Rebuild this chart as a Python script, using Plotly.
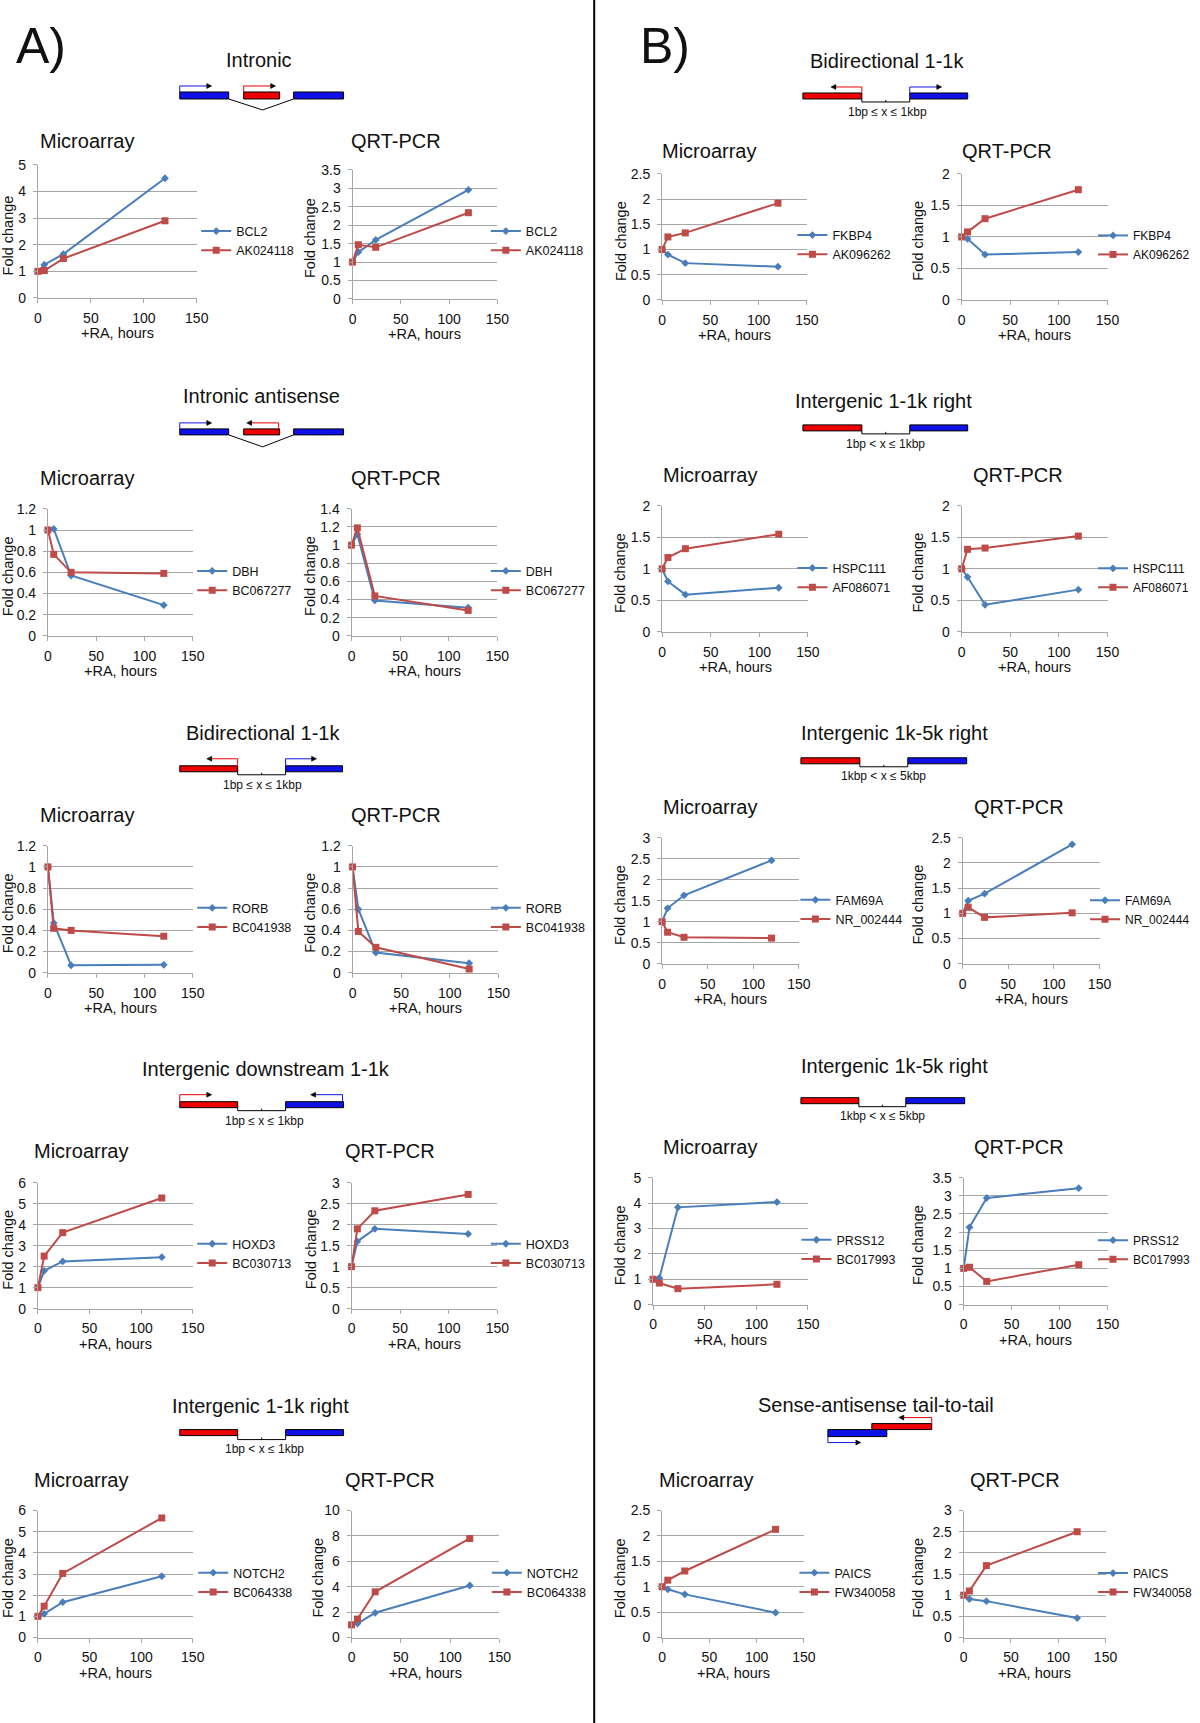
import plotly.graph_objects as go

W, H = 1200, 1723
BLUE = '#4A7EBB'
RED = '#BE4B48'
GRID = '#A6A6A6'
GENE_BLUE = '#1010E8'
GENE_RED = '#EE0000'
FONT = 'Liberation Sans, Arial, sans-serif'

# the captured page comes out slightly shrunk; positions below are in reference pixels
SHIFT_X, SCALE_X = 3, 0.988
SHIFT_Y, SCALE_Y = 7, 0.991

hours = [0, 6, 24, 120]

# A) left column
bcl2_ma = [1.0, 1.25, 1.65, 4.5]
ak024118_ma = [1.0, 1.03, 1.48, 2.9]
bcl2_pcr = [1.0, 1.27, 1.6, 2.96]
ak024118_pcr = [1.0, 1.47, 1.4, 2.34]

dbh_ma = [1.0, 1.01, 0.57, 0.29]
bc067277_ma = [1.0, 0.77, 0.6, 0.59]
dbh_pcr = [1.0, 1.12, 0.39, 0.31]
bc067277_pcr = [1.0, 1.19, 0.44, 0.28]

rorb_ma = [1.0, 0.47, 0.07, 0.075]
bc041938_ma = [1.0, 0.42, 0.40, 0.345]
rorb_pcr = [1.0, 0.6, 0.19, 0.09]
bc041938_pcr = [1.0, 0.39, 0.24, 0.035]

hoxd3_ma = [1.0, 1.8, 2.25, 2.45]
bc030713_ma = [1.0, 2.5, 3.62, 5.27]
hoxd3_pcr = [1.0, 1.6, 1.9, 1.78]
bc030713_pcr = [1.0, 1.9, 2.33, 2.72]

notch2_ma = [1.0, 1.12, 1.67, 2.9]
bc064338_ma = [1.0, 1.48, 3.03, 5.65]
notch2_pcr = [1.0, 1.1, 1.95, 4.1]
bc064338_pcr = [1.0, 1.45, 3.6, 7.8]

# B) right column
fkbp4_ma = [1.0, 0.9, 0.73, 0.66]
ak096262_ma = [1.0, 1.25, 1.33, 1.92]
fkbp4_pcr = [1.0, 0.97, 0.72, 0.76]
ak096262_pcr = [1.0, 1.08, 1.29, 1.75]

hspc111_ma = [1.0, 0.8, 0.59, 0.7]
af086071_ma = [1.0, 1.18, 1.32, 1.55]
hspc111_pcr = [1.0, 0.87, 0.43, 0.67]
af086071_pcr = [1.0, 1.31, 1.33, 1.52]

fam69a_ma = [1.0, 1.32, 1.63, 2.46]
nr002444_ma = [1.0, 0.75, 0.63, 0.61]
fam69a_pcr = [1.0, 1.25, 1.39, 2.37]
nr002444_pcr = [1.0, 1.12, 0.92, 1.01]

prss12_ma = [1.0, 1.05, 3.83, 4.04]
bc017993_ma = [1.0, 0.85, 0.63, 0.8]
prss12_pcr = [1.0, 2.13, 2.94, 3.21]
bc017993_pcr = [1.0, 1.03, 0.64, 1.1]

paics_ma = [1.0, 0.95, 0.85, 0.49]
fw340058_ma = [1.0, 1.13, 1.31, 2.13]
paics_pcr = [1.0, 0.91, 0.86, 0.46]
fw340058_pcr = [1.0, 1.1, 1.7, 2.5]


def dx(x):
    return (x - SHIFT_X) / SCALE_X


def px(x):
    return dx(x) / W


def py(y):
    return 1 - ((y - SHIFT_Y) / SCALE_Y) / H


# blue series, red series, y max, y step, title, plot box (L, R, T, B), title pos, fold-change x,
# legend (text x, center y, font size)
panels = [
    (('BCL2', bcl2_ma), ('AK024118', ak024118_ma), 5, 1, 'Microarray', (37, 196, 164, 297), (37, 140), 7, (235, 240, 12.5)),
    (('BCL2', bcl2_pcr), ('AK024118', ak024118_pcr), 3.5, 0.5, 'QRT-PCR', (352, 497, 169, 298), (348, 140), 310, (525, 240, 12.5)),
    (('DBH', dbh_ma), ('BC067277', bc067277_ma), 1.2, 0.2, 'Microarray', (47, 192, 508, 635), (37, 477), 7, (231, 580, 12.5)),
    (('DBH', dbh_pcr), ('BC067277', bc067277_pcr), 1.4, 0.2, 'QRT-PCR', (351, 497, 508, 635), (348, 477), 310, (525, 580, 12.5)),
    (('RORB', rorb_ma), ('BC041938', bc041938_ma), 1.2, 0.2, 'Microarray', (47, 192, 845, 972), (37, 814), 7, (231, 917, 12.5)),
    (('RORB', rorb_pcr), ('BC041938', bc041938_pcr), 1.2, 0.2, 'QRT-PCR', (352, 498, 845, 972), (348, 814), 310, (525, 917, 12.5)),
    (('HOXD3', hoxd3_ma), ('BC030713', bc030713_ma), 6, 1, 'Microarray', (37, 192, 1182, 1308), (31, 1150), 7, (231, 1253, 12.5)),
    (('HOXD3', hoxd3_pcr), ('BC030713', bc030713_pcr), 3, 0.5, 'QRT-PCR', (351, 497, 1182, 1308), (342, 1150), 310, (525, 1253, 12.5)),
    (('NOTCH2', notch2_ma), ('BC064338', bc064338_ma), 6, 1, 'Microarray', (37, 192, 1510, 1637), (31, 1479), 7, (232, 1582, 12.5)),
    (('NOTCH2', notch2_pcr), ('BC064338', bc064338_pcr), 10, 2, 'QRT-PCR', (351, 499, 1510, 1637), (342, 1479), 317, (526, 1582, 12.5)),
    (('FKBP4', fkbp4_ma), ('AK096262', ak096262_ma), 2.5, 0.5, 'Microarray', (662, 807, 173, 299), (660, 150), 621, (832, 244, 12.5)),
    (('FKBP4', fkbp4_pcr), ('AK096262', ak096262_pcr), 2, 0.5, 'QRT-PCR', (962, 1108, 173, 299), (960, 150), 918, (1133, 244, 12)),
    (('HSPC111', hspc111_ma), ('AF086071', af086071_ma), 2, 0.5, 'Microarray', (662, 808, 505, 631), (661, 474), 620, (832, 577, 12.5)),
    (('HSPC111', hspc111_pcr), ('AF086071', af086071_pcr), 2, 0.5, 'QRT-PCR', (962, 1108, 505, 631), (971, 474), 918, (1133, 577, 12)),
    (('FAM69A', fam69a_ma), ('NR_002444', nr002444_ma), 3, 0.5, 'Microarray', (662, 799, 837, 963), (661, 806), 620, (835, 909, 12.5)),
    (('FAM69A', fam69a_pcr), ('NR_002444', nr002444_pcr), 2.5, 0.5, 'QRT-PCR', (963, 1100, 837, 963), (972, 806), 918, (1125, 909, 12)),
    (('PRSS12', prss12_ma), ('BC017993', bc017993_ma), 5, 1, 'Microarray', (653, 808, 1177, 1304), (661, 1146), 620, (836, 1249, 12.5)),
    (('PRSS12', prss12_pcr), ('BC017993', bc017993_pcr), 3.5, 0.5, 'QRT-PCR', (964, 1108, 1177, 1304), (972, 1146), 918, (1133, 1249, 12)),
    (('PAICS', paics_ma), ('FW340058', fw340058_ma), 2.5, 0.5, 'Microarray', (662, 804, 1510, 1637), (657, 1479), 620, (834, 1582, 12.5)),
    (('PAICS', paics_pcr), ('FW340058', fw340058_pcr), 3, 0.5, 'QRT-PCR', (964, 1106, 1510, 1637), (968, 1479), 918, (1133, 1582, 12)),
]

fig = go.Figure()
annotations = []
shapes = []
layout = {}


def label(x, y, text, size, anchor='center', angle=0):
    annotations.append(dict(x=px(x), y=py(y), xref='paper', yref='paper', text=text,
                            xanchor=anchor, yanchor='middle', textangle=angle, showarrow=False,
                            font=dict(size=size, color='#111')))


for i, (blue, red, ymax, step, title, box, tpos, fold_x, leg) in enumerate(panels, 1):
    sfx = '' if i == 1 else str(i)
    L, R, T, B = box
    for (name, vals), color, sym in ((blue, BLUE, 'diamond'), (red, RED, 'square')):
        fig.add_trace(go.Scatter(
            x=hours, y=vals, name=name, mode='lines+markers',
            line=dict(color=color, width=2),
            marker=dict(symbol=sym, size=7 if sym == 'square' else 6, color=color),
            xaxis='x' + sfx, yaxis='y' + sfx, legend='legend' + sfx, cliponaxis=False))
    layout['xaxis' + sfx] = dict(
        domain=[px(L), px(R)], anchor='y' + sfx, range=[0, 150], tick0=0, dtick=50,
        showgrid=False, zeroline=False, showline=True, linecolor=GRID, linewidth=1,
        ticks='outside', ticklen=4, tickcolor=GRID, ticklabelstandoff=3,
        tickfont=dict(size=14, color='#111'))
    layout['yaxis' + sfx] = dict(
        domain=[py(B), py(T)], anchor='x' + sfx, range=[0, ymax], tick0=0, dtick=step,
        showgrid=True, gridcolor=GRID, gridwidth=1, zeroline=False, showline=True,
        linecolor=GRID, linewidth=1, ticks='outside', ticklen=4, tickcolor=GRID,
        ticklabelstandoff=4, tickfont=dict(size=14, color='#111'))
    layout['legend' + sfx] = dict(
        x=(dx(leg[0]) - 40) / W, y=py(leg[1]), xanchor='left', yanchor='middle',
        font=dict(size=leg[2], color='#111'), bgcolor='rgba(0,0,0,0)', borderwidth=0,
        itemwidth=30, tracegroupgap=0)
    label(tpos[0], tpos[1], title, 20, anchor='left')
    label(fold_x, (T + B) / 2 + 4, 'Fold change', 14.5, angle=-90)
    label((L + R) / 2, B + 35, '+RA, hours', 14.5)

# section titles
section_titles = [
    ('Intronic', 258, 59), ('Intronic antisense', 261, 395), ('Bidirectional 1-1k', 262, 732),
    ('Intergenic downstream 1-1k', 265, 1068), ('Intergenic 1-1k right', 260, 1405),
    ('Bidirectional 1-1k', 887, 60), ('Intergenic 1-1k right', 884, 400),
    ('Intergenic 1k-5k right', 895, 732), ('Intergenic 1k-5k right', 895, 1065),
    ('Sense-antisense tail-to-tail', 876, 1404),
]
for text, x, y in section_titles:
    label(x, y, text, 20)

label(13, 45, 'A)', 50, anchor='left')
label(638, 45, 'B)', 50, anchor='left')


# gene diagrams
def rect(x0, x1, y0, y1, color):
    shapes.append(dict(type='rect', xref='paper', yref='paper', x0=px(x0), x1=px(x1),
                       y0=py(y1), y1=py(y0), fillcolor=color, line=dict(color='black', width=1)))


def polyline(pts, color, width=1):
    path = 'M ' + ' L '.join(f'{px(a)},{py(b)}' for a, b in pts)
    shapes.append(dict(type='path', xref='paper', yref='paper', path=path,
                       line=dict(color=color, width=width)))


def arrow(xs, ybox, ytop, xe, color):
    polyline([(xs, ybox), (xs, ytop), (xe, ytop)], color)
    d = 1 if xe > xs else -1
    pts = [(xe + d * 4, ytop), (xe - d * 1, ytop - 2.5), (xe - d * 1, ytop + 2.5)]
    path = 'M ' + ' L '.join(f'{px(a)},{py(b)}' for a, b in pts) + ' Z'
    shapes.append(dict(type='path', xref='paper', yref='paper', path=path,
                       fillcolor='black', line=dict(color='black', width=0.5)))


def gap(x0, x1, ybot, ylow, text, lx, ly):
    polyline([(x0, ybot), (x0, ylow), (x1, ylow), (x1, ybot)], 'black')
    xm = (x0 + x1) / 2
    polyline([(xm, ylow), (xm, ylow - 2)], 'black')
    label(lx, ly, text, 12)


# A) Intronic
rect(179, 228, 91, 98, GENE_BLUE); rect(243, 279, 91, 98, GENE_RED); rect(293, 343, 91, 98, GENE_BLUE)
polyline([(228, 98), (262, 109), (293, 98)], 'black')
arrow(179, 91, 85, 207, GENE_BLUE); arrow(243, 91, 85, 271, GENE_RED)
# A) Intronic antisense
rect(179, 228, 428, 434, GENE_BLUE); rect(243, 279, 428, 434, GENE_RED); rect(293, 343, 428, 434, GENE_BLUE)
polyline([(228, 434), (262, 446), (293, 434)], 'black')
arrow(179, 428, 422, 207, GENE_BLUE); arrow(278, 428, 422, 250, GENE_RED)
# A) Bidirectional
rect(179, 237, 765, 771, GENE_RED); rect(285, 342, 765, 771, GENE_BLUE)
gap(237, 285, 771, 774, '1bp ≤ x ≤ 1kbp', 262, 784)
arrow(237, 765, 758, 210, GENE_RED); arrow(285, 765, 758, 312, GENE_BLUE)
# A) Intergenic downstream
rect(179, 237, 1101, 1107, GENE_RED); rect(285, 343, 1101, 1107, GENE_BLUE)
gap(237, 285, 1107, 1110, '1bp ≤ x ≤ 1kbp', 264, 1120)
arrow(179, 1101, 1094, 207, GENE_RED); arrow(342, 1101, 1094, 314, GENE_BLUE)
# A) Intergenic 1-1k right
rect(179, 237, 1429, 1435, GENE_RED); rect(285, 343, 1429, 1435, GENE_BLUE)
gap(237, 285, 1435, 1439, '1bp < x ≤ 1kbp', 264, 1448)
# B) Bidirectional
rect(803, 862, 92, 98, GENE_RED); rect(910, 968, 92, 98, GENE_BLUE)
gap(862, 910, 98, 101, '1bp ≤ x ≤ 1kbp', 888, 111)
arrow(862, 92, 86, 835, GENE_RED); arrow(910, 92, 86, 938, GENE_BLUE)
# B) Intergenic 1-1k right
rect(803, 862, 424, 430, GENE_RED); rect(910, 968, 424, 430, GENE_BLUE)
gap(862, 910, 430, 433, '1bp < x ≤ 1kbp', 886, 443)
# B) Intergenic 1k-5k right
rect(801, 860, 757, 763, GENE_RED); rect(908, 967, 757, 763, GENE_BLUE)
gap(860, 908, 763, 766, '1kbp < x ≤ 5kbp', 884, 775)
rect(801, 859, 1097, 1103, GENE_RED); rect(906, 965, 1097, 1103, GENE_BLUE)
gap(859, 906, 1103, 1106, '1kbp < x ≤ 5kbp', 883, 1115)
# B) Sense-antisense tail-to-tail
rect(872, 932, 1423, 1429, GENE_RED); rect(828, 887, 1429, 1436, GENE_BLUE)
arrow(932, 1423, 1417, 903, GENE_RED); arrow(828, 1436, 1442, 857, GENE_BLUE)

# column separator
shapes.append(dict(type='line', xref='paper', yref='paper', x0=px(594), x1=px(594), y0=-0.02, y1=1.02,
                   line=dict(color='black', width=2)))

fig.update_layout(**layout)
fig.update_layout(
    width=W, height=H, margin=dict(l=0, r=0, t=0, b=0),
    paper_bgcolor='white', plot_bgcolor='white',
    font=dict(family=FONT, color='#111'),
    annotations=annotations, shapes=shapes,
)
fig.write_html("out.html", config={'displayModeBar': False},
               post_script="document.body.style.margin='0';")
